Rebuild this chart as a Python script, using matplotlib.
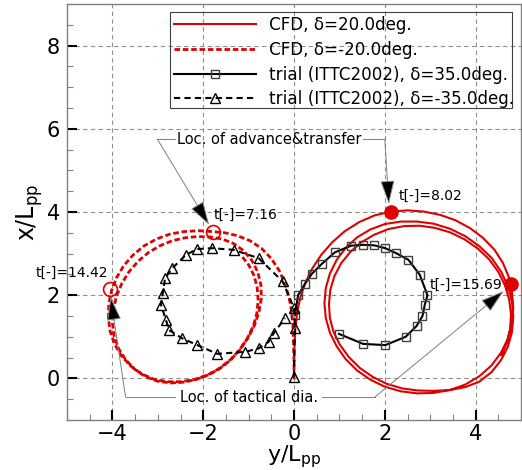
import numpy as np
import matplotlib
matplotlib.use('Agg')
import matplotlib.pyplot as plt
from matplotlib.patches import Rectangle

# Datos (y/Lpp horizontal, x/Lpp vertical)

cfd_p20_y = [0.00, 0.00, 0.01, 0.03, 0.07, 0.14, 0.25, 0.40, 0.60, 0.84, 1.12, 1.44, 1.78, 2.14, 2.50, 2.86,
             3.22, 3.56, 3.88, 4.16, 4.41, 4.60, 4.73, 4.80, 4.83, 4.80, 4.71, 4.56, 4.35, 4.08, 3.77, 3.43,
             3.07, 2.71, 2.35, 2.00, 1.68, 1.39, 1.14, 0.94, 0.79, 0.70, 0.67, 0.70, 0.79, 0.94, 1.14, 1.39,
             1.68, 2.00, 2.35, 2.71, 3.07, 3.43, 3.77, 4.08, 4.35, 4.56, 4.71, 4.80, 4.83, 4.80, 4.71, 4.56,
             4.35, 4.08, 3.77, 3.43, 3.07, 2.72, 2.38, 2.04, 1.73, 1.45, 1.21, 1.01, 0.87, 0.79, 0.77, 0.80,
             0.89, 1.04, 1.24, 1.48, 1.76, 2.08, 2.42, 2.76, 3.10, 3.44, 3.76, 4.05, 4.30, 4.50, 4.65, 4.74,
             4.78, 4.76, 4.69, 4.57]
cfd_p20_x = [0.00, 0.40, 0.80, 1.20, 1.60, 1.95, 2.30, 2.64, 2.97, 3.27, 3.54, 3.76, 3.92, 4.01, 4.04, 4.01,
             3.93, 3.80, 3.61, 3.38, 3.10, 2.78, 2.44, 2.08, 1.70, 1.32, 0.95, 0.62, 0.31, 0.05, -0.15, -0.28,
             -0.35, -0.36, -0.31, -0.20, -0.03, 0.19, 0.46, 0.77, 1.10, 1.45, 1.81, 2.17, 2.52, 2.85, 3.14, 3.39,
             3.58, 3.71, 3.77, 3.77, 3.72, 3.60, 3.42, 3.18, 2.90, 2.57, 2.22, 1.86, 1.48, 1.11, 0.76, 0.44,
             0.15, -0.08, -0.21, -0.28, -0.30, -0.29, -0.24, -0.13, 0.04, 0.25, 0.51, 0.81, 1.12, 1.45, 1.79, 2.13,
             2.46, 2.77, 3.04, 3.27, 3.45, 3.59, 3.66, 3.67, 3.62, 3.51, 3.34, 3.12, 2.86, 2.56, 2.23, 1.89,
             1.54, 1.19, 0.86, 0.56]

cfd_m20_y = [0.00, 0.00, -0.01, -0.02, -0.05, -0.11, -0.20, -0.33, -0.50, -0.72, -0.97, -1.25, -1.52, -1.80,
             -2.10, -2.42, -2.73, -3.03, -3.31, -3.55, -3.75, -3.91, -4.02, -4.08, -4.09, -4.05, -3.95, -3.80,
             -3.60, -3.36, -3.09, -2.80, -2.50, -2.20, -1.91, -1.64, -1.40, -1.19, -1.01, -0.87, -0.77, -0.72,
             -0.73, -0.80, -0.93, -1.11, -1.33, -1.58, -1.85, -2.12, -2.40, -2.68, -2.95, -3.20, -3.43, -3.63,
             -3.79, -3.91, -3.98, -4.00, -3.96, -3.86, -3.71, -3.51, -3.27, -3.00, -2.71, -2.42, -2.14, -1.87,
             -1.62, -1.39, -1.19, -1.03, -0.90, -0.82, -0.79, -0.81, -0.88, -1.00, -1.16]
cfd_m20_x = [0.00, 0.40, 0.80, 1.20, 1.60, 1.95, 2.28, 2.60, 2.88, 3.13, 3.31, 3.43, 3.50, 3.53,
             3.55, 3.53, 3.47, 3.35, 3.18, 2.96, 2.71, 2.42, 2.11, 1.79, 1.46, 1.13, 0.82, 0.54,
             0.30, 0.11, -0.02, -0.08, -0.08, -0.03, 0.08, 0.24, 0.45, 0.70, 0.98, 1.28, 1.60, 1.93,
             2.25, 2.56, 2.84, 3.07, 3.24, 3.35, 3.40, 3.41, 3.38, 3.31, 3.19, 3.03, 2.82, 2.57,
             2.29, 1.98, 1.66, 1.33, 1.01, 0.71, 0.45, 0.22, 0.04, -0.07, -0.11, -0.09, -0.02, 0.09,
             0.25, 0.45, 0.69, 0.96, 1.25, 1.56, 1.87, 2.18, 2.47, 2.73, 2.95]

trial_p35_y = [0.02, 0.09, 0.24, 0.39, 0.61, 0.90, 1.26, 1.52, 1.76, 2.01, 2.25, 2.52, 2.77, 2.94, 2.88,
               2.83, 2.70, 2.46, 2.01, 1.52, 0.99]
trial_p35_x = [1.53, 2.00, 2.27, 2.51, 2.75, 3.03, 3.19, 3.21, 3.20, 3.13, 3.01, 2.85, 2.49, 2.00, 1.77,
               1.50, 1.26, 1.00, 0.80, 0.83, 1.07]

trial_m35_y = [0.00, 0.02, 0.00, -0.25, -0.78, -1.33, -1.80, -2.13, -2.38, -2.68, -2.84, -2.89, -2.93,
               -2.82, -2.75, -2.46, -2.13, -1.69, -1.07, -0.78, -0.56, -0.45, -0.20]
trial_m35_x = [0.04, 1.20, 1.69, 2.33, 2.89, 3.09, 3.13, 3.11, 2.97, 2.65, 2.41, 2.05, 1.77,
               1.40, 1.16, 0.96, 0.80, 0.59, 0.64, 0.72, 0.88, 1.08, 1.45]

# puntos marcados (t[-])
pts_p20_y = [2.14, 4.77]
pts_p20_x = [4.01, 2.27]
pts_m20_y = [-1.79, -4.05]
pts_m20_x = [3.52, 2.14]

red = '#e00000'
gray = '#808080'

fig = plt.figure(figsize=(5.22, 4.70), dpi=100)
ax = fig.add_axes([0.1284, 0.1064, 0.8697, 0.8851])

ax.plot(cfd_p20_y, cfd_p20_x, '-', color=red, lw=1.5, label='CFD, δ=20.0deg.')
ax.plot(cfd_m20_y, cfd_m20_x, color=red, lw=2, ls=(0, (2, 1)), label='CFD, δ=-20.0deg.')
ax.plot(trial_p35_y, trial_p35_x, '-', color='black', lw=1.5, marker='s', ms=6, mfc='none',
        mec='#404040', mew=1.0, label='trial (ITTC2002), δ=35.0deg.')
ax.plot(trial_m35_y, trial_m35_x, color='black', lw=1.5, ls=(0, (3, 2)), marker='^', ms=7, mfc='none',
        mec='black', mew=1.0, label='trial (ITTC2002), δ=-35.0deg.')

ax.plot(pts_p20_y, pts_p20_x, 'o', color=red, ms=9.5, zorder=5)
ax.plot(pts_m20_y, pts_m20_x, 'o', mfc='none', mec=red, ms=10, mew=1.2, zorder=5)

ax.text(-1.76, 3.93, 't[-]=7.16', fontsize=10, ha='left', va='center')
ax.text(-4.09, 2.53, 't[-]=14.42', fontsize=10, ha='right', va='center')
ax.text(2.31, 4.38, 't[-]=8.02', fontsize=10, ha='left', va='center')
ax.text(4.59, 2.25, 't[-]=15.69', fontsize=10, ha='right', va='center')

# anotaciones con flechas
aprops = dict(arrowstyle='-|>,head_length=1.0,head_width=0.3', mutation_scale=15,
              facecolor='black', edgecolor=gray, lw=0.7, shrinkA=0, shrinkB=0)

ax.text(-0.55, 5.75, 'Loc. of advance&transfer', fontsize=10.5, ha='center', va='center')
ax.plot([-2.62, -3.01], [5.75, 5.75], color=gray, lw=0.7)
ax.plot([1.52, 2.00], [5.75, 5.75], color=gray, lw=0.7)
ax.annotate('', xy=(-1.87, 3.69), xytext=(-3.01, 5.75), arrowprops=aprops)
ax.annotate('', xy=(2.09, 4.19), xytext=(2.00, 5.75), arrowprops=aprops)

ax.text(-0.98, -0.47, 'Loc. of tactical dia.', fontsize=10.5, ha='center', va='center')
ax.plot([-2.62, -3.71], [-0.45, -0.45], color=gray, lw=0.7)
ax.plot([0.62, 1.78], [-0.45, -0.45], color=gray, lw=0.7)
ax.annotate('', xy=(-4.04, 1.96), xytext=(-3.71, -0.45), arrowprops=aprops)
ax.annotate('', xy=(4.62, 2.10), xytext=(1.78, -0.45), arrowprops=aprops)

ax.set_xlim(-5, 5)
ax.set_ylim(-1, 9)
ax.set_xticks([-4, -2, 0, 2, 4])
ax.set_yticks([0, 2, 4, 6, 8])
ax.set_xticks(np.arange(-5, 5.01, 0.5), minor=True)
ax.set_yticks(np.arange(-1, 9.01, 0.5), minor=True)
ax.tick_params(which='major', direction='in', length=7, width=1.5, color='black', labelsize=15)
ax.tick_params(which='minor', direction='in', length=4, width=0.8, color=gray)
ax.tick_params(axis='y', which='major', pad=5)
ax.tick_params(axis='x', which='major', pad=3)
for s in ax.spines.values():
    s.set_color(gray)
    s.set_linewidth(1.0)

ax.grid(True, which='major', ls=(0, (4, 3)), color='#909090', lw=0.8)
ax.set_axisbelow(True)

ax.set_xlabel(r'y/L$_{\mathrm{pp}}$', fontsize=16, labelpad=-1)
ax.set_ylabel(r'x/L$_{\mathrm{pp}}$', fontsize=17, labelpad=1)

# leyenda sin marco + rectángulo (el texto sobresale del marco como en el original)
leg = ax.legend(loc='upper left', bbox_to_anchor=(0.227, 0.981), fontsize=12.1, frameon=False,
                handlelength=4.85, handletextpad=0.8, borderpad=0.25,
                labelspacing=0.4, borderaxespad=0)
ax.add_patch(Rectangle((0.227, 0.75), 0.753, 0.231, transform=ax.transAxes, fill=False,
                       edgecolor='#404040', lw=0.8, zorder=4))

plt.savefig('out.png', dpi=100)
